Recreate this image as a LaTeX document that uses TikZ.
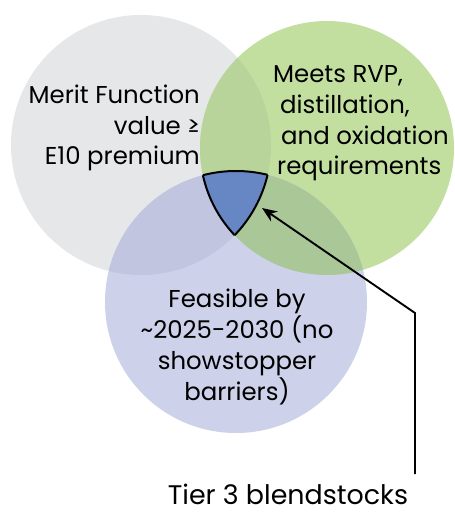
\documentclass[tikz,border=0pt]{standalone}
\usepackage{fontspec}
\setmainfont{Poppins}
\usetikzlibrary{arrows.meta}
\definecolor{cgray}{HTML}{E6E7E8}
\definecolor{cgreen}{HTML}{C3DFA0}
\definecolor{cblue}{HTML}{CDD1E9}
\definecolor{cgg}{HTML}{B8D49A}
\definecolor{cgb}{HTML}{C1C5DF}
\definecolor{cnb}{HTML}{A9C797}
\definecolor{ctriple}{HTML}{6787C4}
\tikzset{
  lbl/.style={font=\fontsize{24.5}{31}\selectfont, inner sep=0pt},
  arrowline/.style={line width=1.9bp, -{Stealth[length=15bp,width=12bp]}},
  outline/.style={line width=2bp}
}
\begin{document}
\begin{tikzpicture}[x=1bp,y=-1bp]
\useasboundingbox (0,0) rectangle (455,515);
\def\gray{(141,145) circle[radius=130]}
\def\green{(327,148) circle[radius=127]}
\def\blue{(236,302) circle[radius=131]}
\fill[cgray] \gray;
\fill[cgreen] \green;
\fill[cblue] \blue;
\begin{scope}\clip \gray; \fill[cgg] \green; \end{scope}
\begin{scope}\clip \gray; \fill[cgb] \blue; \end{scope}
\begin{scope}\clip \green; \fill[cnb] \blue; \end{scope}
\begin{scope}\clip \gray; \clip \green; \fill[ctriple] \blue; \end{scope}
% outline of the triple region
\begin{scope}
  \clip \gray; \clip \green; \draw[outline] \blue;
\end{scope}
\begin{scope}
  \clip \gray; \clip \blue; \draw[outline] \green;
\end{scope}
\begin{scope}
  \clip \green; \clip \blue; \draw[outline] \gray;
\end{scope}
\node[lbl, align=right, anchor=base east] (gtext) at (200,165)
  {Merit Function\\value ≥\hspace{14bp}\\E10 premium\hspace{7bp}};
\node[lbl, align=left, anchor=base west] (rtext) at (273,175)
  {Meets RVP,\\\hspace{7bp}distillation,\\\hspace{8bp}and oxidation\\\hspace{4bp}requirements};
\node[lbl, align=center, anchor=base] (btext) at (237,400)
  {Feasible by\\\textasciitilde 2025-2030 (no\\showstopper\\barriers)};
\node[lbl, font=\fontsize{27}{30}\selectfont, anchor=base] (label) at (288,504) {Tier 3 blendstocks};
\coordinate (bend) at (415,313);
\coordinate (tip) at (262,208);
\draw[arrowline] (bend |- 0,474) -- (bend) -- (tip);
\end{tikzpicture}
\end{document}
